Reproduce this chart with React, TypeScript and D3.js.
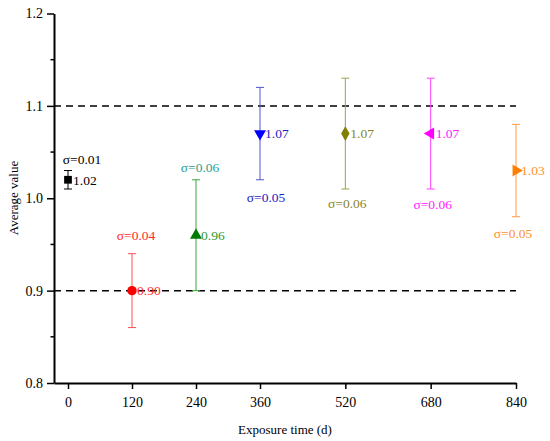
import React, { useEffect, useRef } from "react";
import * as d3 from "d3";

const days = [0, 120, 240, 360, 520, 680, 840];
const means = [1.02, 0.9, 0.96, 1.07, 1.07, 1.07, 1.03];
const sigmas = [0.01, 0.04, 0.06, 0.05, 0.06, 0.06, 0.05];
const limits = [0.9, 1.1];
const yTicks = [0.8, 0.9, 1.0, 1.1, 1.2];

// look of each point
const markerColors = ["#000000", "#ff0000", "#007a00", "#0000ff", "#7f7f00", "#ff00ff", "#ff8000"];
const barColors = ["#000000", "#ff5050", "#3aa83a", "#5555d5", "#a0a04a", "#ff40ff", "#ff9c45"];
const valueColors = ["#000000", "#ff2a2a", "#2e9a2e", "#2222c4", "#85852a", "#ff22ff", "#ff9030"];
const sigmaColors = ["#000000", "#ff2a2a", "#2a9e90", "#2222c4", "#85852a", "#ff22ff", "#ff9030"];
const sigmaDx = [14, 4, 4, 6, 2, 2, -3];
const sigmaDy = [-6.5, -13.5, -8, 22, 19, 20, 21];

export default function App() {
  const ref = useRef<SVGSVGElement>(null);

  useEffect(() => {
    const svg = d3.select(ref.current);
    svg.selectAll("*").remove();

    const font = "'Liberation Serif', 'Times New Roman', serif";
    const x = d3.scaleLinear().domain([-26.25, 840]).range([54, 516]);
    const y = d3.scaleLinear().domain([0.8, 1.2]).range([383, 13.5]);

    // limit lines
    svg
      .selectAll("line.limit")
      .data(limits)
      .join("line")
      .attr("x1", x(-26.25))
      .attr("x2", x(840))
      .attr("y1", (d) => y(d))
      .attr("y2", (d) => y(d))
      .attr("stroke", "#000")
      .attr("stroke-width", 1.5)
      .attr("stroke-dasharray", "7,5");

    // y axis
    const yAxis = svg.append("g").attr("transform", `translate(${x(-26.25)},0)`);
    yAxis
      .call(d3.axisLeft(y).tickValues(yTicks).tickFormat(d3.format(".1f")).tickSize(7).tickSizeOuter(0))
      .call((g) => g.select(".domain").attr("stroke-width", 2))
      .call((g) => g.selectAll(".tick line").attr("stroke-width", 1.5))
      .selectAll("text")
      .attr("font-family", font)
      .attr("font-size", 14)
      .attr("fill", "#000")
      .attr("dx", -1);
    yAxis
      .selectAll("line.minor")
      .data(d3.range(0.85, 1.2, 0.1))
      .join("line")
      .attr("x1", -3.5)
      .attr("x2", 0)
      .attr("y1", (d) => y(d))
      .attr("y2", (d) => y(d))
      .attr("stroke", "#000")
      .attr("stroke-width", 1.5);

    // x axis
    svg
      .append("g")
      .attr("transform", `translate(0,${y(0.8)})`)
      .call(d3.axisBottom(x).tickValues(days).tickFormat(d3.format("d")).tickSize(6).tickSizeOuter(0))
      .call((g) => g.select(".domain").attr("stroke-width", 2))
      .call((g) => g.selectAll(".tick line").attr("stroke-width", 1.5))
      .selectAll("text")
      .attr("font-family", font)
      .attr("font-size", 14)
      .attr("fill", "#000")
      .attr("dy", "1.05em");

    // axis titles
    svg
      .append("text")
      .attr("x", 285)
      .attr("y", 434)
      .attr("text-anchor", "middle")
      .attr("font-family", font)
      .attr("font-size", 13)
      .text("Exposure time (d)");
    svg
      .append("text")
      .attr("transform", "translate(18,198) rotate(-90)")
      .attr("text-anchor", "middle")
      .attr("font-family", font)
      .attr("font-size", 13)
      .text("Average value");

    const idx = d3.range(days.length);

    // error bars
    const bars = svg.selectAll("g.err").data(idx).join("g").attr("stroke-width", 1);
    bars
      .append("line")
      .attr("x1", (i) => x(days[i]))
      .attr("x2", (i) => x(days[i]))
      .attr("y1", (i) => y(means[i] - sigmas[i]))
      .attr("y2", (i) => y(means[i] + sigmas[i]))
      .attr("stroke", (i) => barColors[i]);
    [-1, 1].forEach((s) => {
      bars
        .append("line")
        .attr("x1", (i) => x(days[i]) - 4)
        .attr("x2", (i) => x(days[i]) + 4)
        .attr("y1", (i) => y(means[i] + s * sigmas[i]))
        .attr("y2", (i) => y(means[i] + s * sigmas[i]))
        .attr("stroke", (i) => barColors[i]);
    });

    // markers
    const shapes = [
      { t: d3.symbolSquare, r: 0, s: 60 },
      { t: d3.symbolCircle, r: 0, s: 70 },
      { t: d3.symbolTriangle, r: 0, s: 62 },
      { t: d3.symbolTriangle, r: 180, s: 62 },
      { t: d3.symbolDiamond, r: 0, s: 62 },
      { t: d3.symbolTriangle, r: -90, s: 62 },
      { t: d3.symbolTriangle, r: 90, s: 62 },
    ];
    svg
      .selectAll("path.mark")
      .data(idx)
      .join("path")
      .attr("d", (i) => d3.symbol(shapes[i].t, shapes[i].s)()!)
      .attr("transform", (i) => `translate(${x(days[i])},${y(means[i])}) rotate(${shapes[i].r})`)
      .attr("fill", (i) => markerColors[i]);

    // value labels
    svg
      .selectAll("text.val")
      .data(idx)
      .join("text")
      .attr("x", (i) => x(days[i]) + 5)
      .attr("y", (i) => y(means[i]))
      .attr("dy", "0.35em")
      .attr("font-family", font)
      .attr("font-size", 13.5)
      .attr("fill", (i) => valueColors[i])
      .text((i) => d3.format(".2f")(means[i]));

    // sigma labels
    svg
      .selectAll("text.sig")
      .data(idx)
      .join("text")
      .attr("x", (i) => x(days[i]) + sigmaDx[i])
      .attr("y", (i) => (sigmaDy[i] < 0 ? y(means[i] + sigmas[i]) : y(means[i] - sigmas[i])) + sigmaDy[i])
      .attr("text-anchor", "middle")
      .attr("font-family", font)
      .attr("font-size", 13.5)
      .attr("fill", (i) => sigmaColors[i])
      .text((i) => `σ=${d3.format(".2f")(sigmas[i])}`);
  }, []);

  return (
    <svg
      ref={ref}
      width={550}
      height={441}
      style={{ position: "absolute", left: 0, top: 0, background: "#fff" }}
    />
  );
}
